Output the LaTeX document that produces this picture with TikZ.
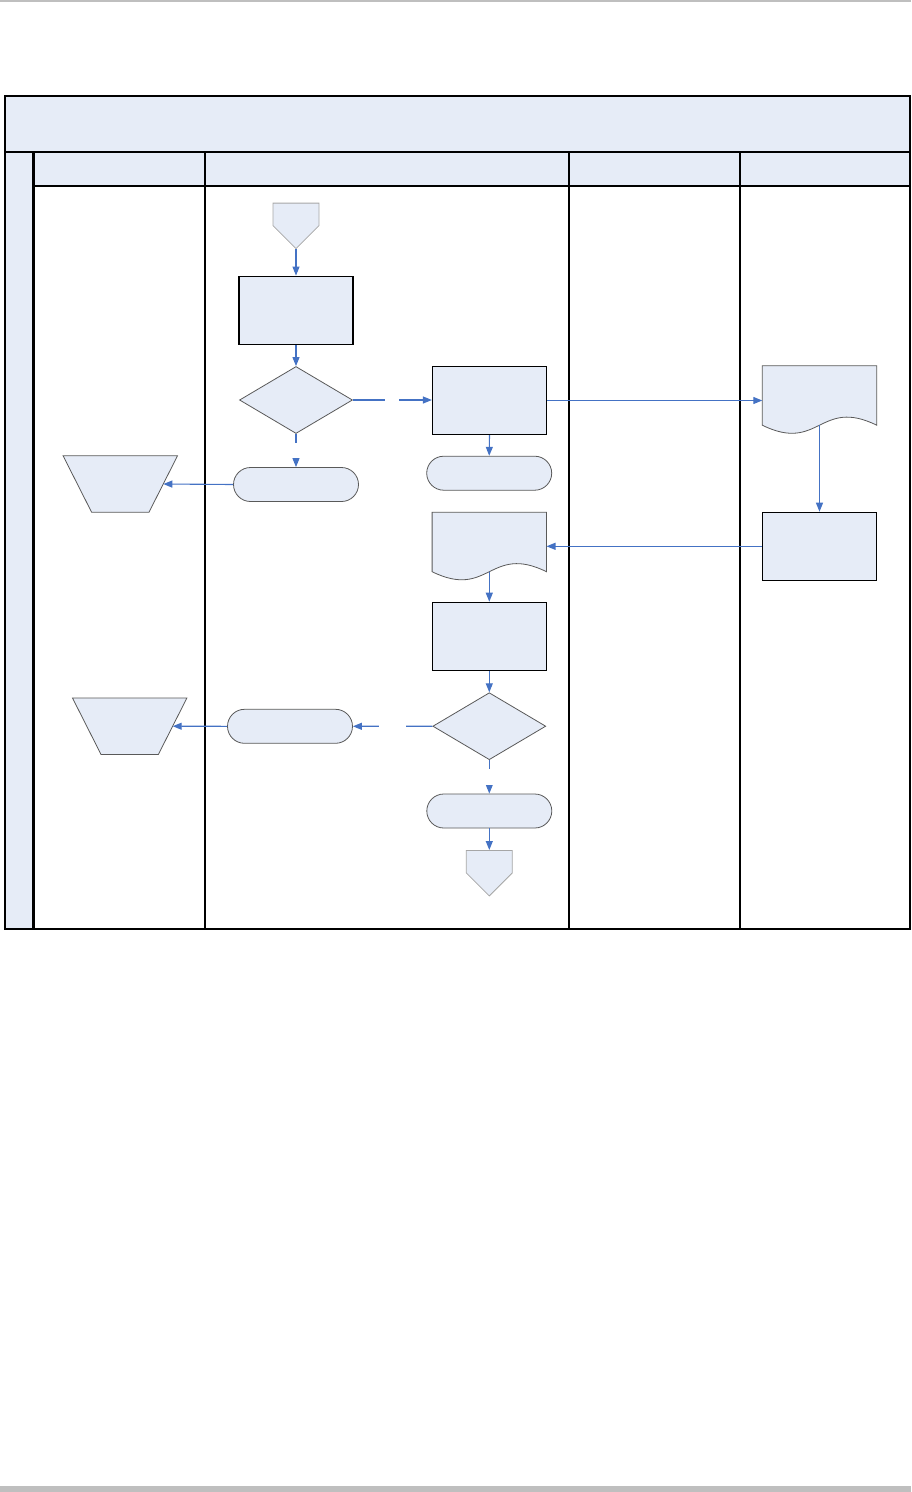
\documentclass[tikz,border=0pt]{standalone}
\usepackage{tikz}
\usetikzlibrary{arrows.meta, shapes.geometric, shapes.symbols}
\definecolor{lanefill}{HTML}{E6ECF7}
\definecolor{flowblue}{HTML}{4472C4}
\definecolor{shapeline}{HTML}{595959}
\definecolor{pagegray}{HTML}{BFBFBF}

\begin{document}
\begin{tikzpicture}[x=1pt, y=-1pt,
  procbox/.style={rectangle, draw=black, line width=1.2pt, fill=lanefill,
                  minimum width=114pt, minimum height=68pt, inner sep=0pt},
  decision/.style={diamond, draw=shapeline, line width=0.8pt, fill=lanefill,
                   minimum width=113pt, minimum height=67pt, inner sep=0pt},
  terminal/.style={rectangle, rounded corners=17pt, draw=shapeline, line width=0.8pt,
                   fill=lanefill, minimum width=125pt, minimum height=34pt, inner sep=0pt},
  manual/.style={rectangle, minimum width=114pt, minimum height=56pt, inner sep=0pt},
  offpage/.style={signal, signal to=south, signal from=nowhere, draw=gray!70,
                  line width=0.8pt, fill=lanefill, minimum width=46pt, minimum height=22.5pt,
                  inner sep=0pt},
  docnode/.style={rectangle, minimum width=114pt, minimum height=59pt, inner sep=0pt},
  docline/.style={draw=shapeline, line width=0.8pt, fill=lanefill},
  flow/.style={-{Triangle[length=9pt, width=7pt]}, draw=flowblue, line width=1.1pt},
  labelgap/.style={fill=white, inner sep=0pt, minimum size=#1},
  grid/.style={draw=black, line width=1.1pt}
]
  \useasboundingbox (0,0) rectangle (911,1492);
  \fill[pagegray] (0,0) rectangle (911,1.5);
  \fill[pagegray] (0,1486) rectangle (911,1492);

  % swimlane table
  \filldraw[grid, fill=lanefill] (5,96) rectangle (910,152);
  \filldraw[grid, fill=lanefill] (5,152) rectangle (33.5,929);
  \filldraw[grid, fill=lanefill] (33.5,152) rectangle (910,186);
  \draw[grid] (33.5,186) rectangle (910,929);
  \foreach \x in {205,569,740}
    \draw[grid] (\x,152) -- (\x,929);
  \draw[line width=2.6pt] (33.5,152) -- (33.5,929);

  \node[offpage, anchor=north] (start) at (296,202.7) {};
  \node[procbox]  (box1)  at (296,310.2)   {};
  \node[decision] (dia1)  at (296,400)     {};
  \node[terminal] (term1) at (296,484.5)   {};
  \node[manual]   (trap1) at (120.3,484)   {};
  \node[procbox]  (box2)  at (489.5,400.5) {};
  \node[terminal] (term2) at (489.2,473.2) {};
  \node[docnode]  (doc1)  at (819.5,395.5) {};
  \node[procbox]  (box3)  at (819.5,546.3) {};
  \node[docnode]  (doc2)  at (489.3,542)   {};
  \node[procbox]  (box4)  at (489.3,636.3) {};
  \node[decision] (dia2)  at (489.3,726.2) {};
  \node[terminal] (term3) at (489.3,811)   {};
  \node[offpage, anchor=north] (stop) at (489.3,850) {};
  \node[terminal] (term4) at (290,726.3)   {};
  \node[manual]   (trap2) at (129.7,726.2) {};

  \foreach \d in {doc1,doc2}
    \filldraw[docline] (\d.north west) -- (\d.south west)
      .. controls +(57,28) and +(-57,-28) .. (\d.south east)
      -- (\d.north east) -- cycle;
  \foreach \t in {trap1,trap2}
    \filldraw[docline] (\t.north west) -- (\t.north east)
      -- ([xshift=-28.5pt]\t.south east) -- ([xshift=28.5pt]\t.south west) -- cycle;

  \draw[flow] (start.south) -- (box1.north);
  \draw[flow] (box1.south) -- (dia1.north);
  \draw[flow] (dia1.east) -- (dia1.east -| box2.west)
        node[midway, labelgap=14pt] (gapA) {};
  \draw[flow] (dia1.south) -- (term1.north)
        node[midway, labelgap=15pt] (gapB) {};
  \draw[flow] (term1.west) -- ([xshift=-14.2pt]trap1.east);
  \draw[flow] (box2.south) -- (term2.north);
  \draw[flow] (box2.east) -- (box2.east -| doc1.west);
  \draw[flow] (doc1.south) -- (box3.north);
  \draw[flow] (box3.west) -- (box3.west -| doc2.east);
  \draw[flow] (doc2.south) -- (box4.north);
  \draw[flow] (box4.south) -- (dia2.north);
  \draw[flow] (dia2.west) -- (term4.east)
        node[midway, labelgap=27pt] (gapC) {};
  \draw[flow] (term4.west) -- ([xshift=-14.2pt]trap2.east);
  \draw[flow] (dia2.south) -- (term3.north)
        node[midway, labelgap=16pt] (gapD) {};
  \draw[flow] (term3.south) -- (stop.north);
\end{tikzpicture}
\end{document}
